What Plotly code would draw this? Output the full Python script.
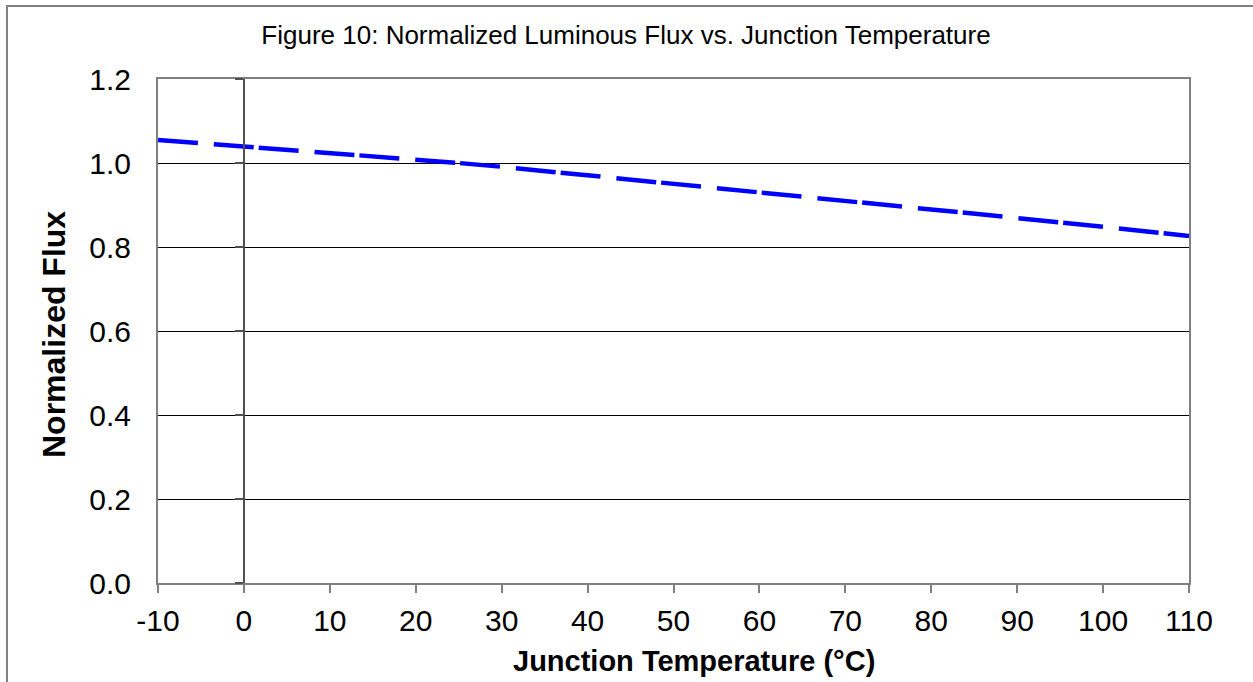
import plotly.graph_objects as go

# Data
temperature_c = [-10, 0, 10, 20, 25, 30, 40, 50, 60, 70, 80, 90, 100, 110]
normalized_flux = [1.055, 1.040, 1.025, 1.009, 1.000, 0.991, 0.971, 0.951,
                   0.931, 0.911, 0.890, 0.869, 0.848, 0.826]

x_ticks = [-10, 0, 10, 20, 30, 40, 50, 60, 70, 80, 90, 100, 110]
x_tick_labels = ["-10", "0", "10", "20", "30", "40", "50", "60", "70", "80", "90", "100", "110"]
y_ticks = [0.0, 0.2, 0.4, 0.6, 0.8, 1.0, 1.2]
y_tick_labels = ["0.0", "0.2", "0.4", "0.6", "0.8", "1.0", "1.2"]

title_text = "Figure 10: Normalized Luminous Flux vs. Junction Temperature"
x_title = "Junction Temperature (°C)"
y_title = "Normalized Flux"

FONT = "Liberation Sans, Arial, sans-serif"

fig = go.Figure()
fig.add_trace(go.Scatter(
    x=temperature_c, y=normalized_flux, mode="lines",
    line=dict(color="#0000FF", width=4.5, dash="40px,16px,40px,5px"),
    showlegend=False, hoverinfo="skip",
))
# invisible trace on secondary y-axis (the vertical axis crossing at x=0)
fig.add_trace(go.Scatter(
    x=[temperature_c[0]], y=[y_ticks[0]], yaxis="y2", mode="markers",
    marker=dict(opacity=0), showlegend=False, hoverinfo="skip",
))

W, H = 1253, 682
L, R, T, B = 158, 64, 79, 99
pw, ph = W - L - R, H - T - B

fig.update_layout(
    width=W, height=H,
    margin=dict(l=L, r=R, t=T, b=B),
    paper_bgcolor="white", plot_bgcolor="white",
    font=dict(family=FONT, color="black"),
    title=dict(text=title_text,
               x=626 / W, xref="container", xanchor="center",
               y=1 - 35 / H, yref="container", yanchor="middle",
               font=dict(size=26, family=FONT)),
    xaxis=dict(
        range=[x_ticks[0], x_ticks[-1]], tickvals=x_ticks, ticktext=x_tick_labels,
        showgrid=False, zeroline=False,
        showline=True, linecolor="#808080", linewidth=2, mirror=True,
        ticks="outside", ticklen=8, tickcolor="#808080", tickwidth=1.5,
        ticklabelstandoff=2,
        tickfont=dict(size=30, family=FONT),
    ),
    yaxis=dict(
        range=[y_ticks[0], y_ticks[-1]], tickvals=y_ticks, ticktext=y_tick_labels,
        showgrid=True, gridcolor="black", gridwidth=1, zeroline=False,
        showline=True, linecolor="#808080", linewidth=2, mirror=True,
        ticks="", ticklabelstandoff=19,
        tickfont=dict(size=30, family=FONT),
    ),
    yaxis2=dict(
        overlaying="y", anchor="free",
        position=(0 - x_ticks[0]) / (x_ticks[-1] - x_ticks[0]),
        range=[y_ticks[0], y_ticks[-1]], tickvals=y_ticks,
        showticklabels=False, showgrid=False, zeroline=False,
        showline=True, linecolor="#505050", linewidth=1.5,
        ticks="outside", ticklen=8, tickcolor="#505050", tickwidth=1.5,
    ),
    annotations=[
        dict(text="<b>" + x_title + "</b>", xref="paper", yref="paper",
             x=(694 - L) / pw, y=(T + ph - 661) / ph, xanchor="center", yanchor="middle",
             showarrow=False, font=dict(size=29, family=FONT)),
        dict(text="<b>" + y_title + "</b>", xref="paper", yref="paper",
             x=(54 - L) / pw, y=(T + ph - 335) / ph, xanchor="center", yanchor="middle",
             textangle=-90, showarrow=False, font=dict(size=32, family=FONT)),
    ],
)

# outer chart-area border (extends beyond right/bottom of the view)
fig.add_shape(type="rect", xref="paper", yref="paper",
              x0=(7 - L) / pw, x1=(W + 20 - L) / pw,
              y0=-(H + 20 - (T + ph)) / ph, y1=(T + ph - 6) / ph,
              line=dict(color="#808080", width=2), fillcolor="rgba(0,0,0,0)", layer="below")

fig.write_html("out.html", config={"displayModeBar": False},
               post_script="document.body.style.margin='0';document.body.style.overflow='hidden';")
